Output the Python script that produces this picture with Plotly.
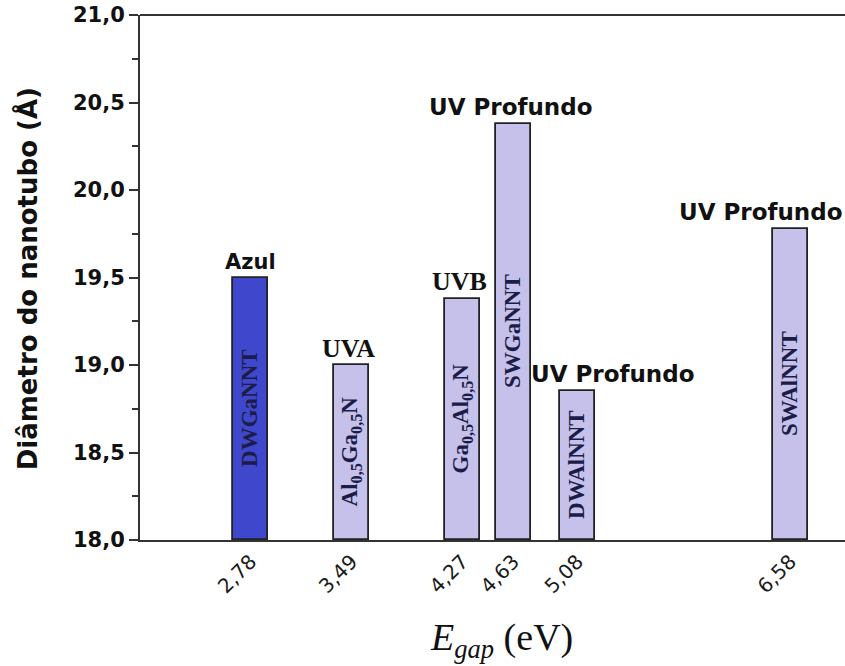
import plotly.graph_objects as go

# ---- data ----
egap = [2.78, 3.49, 4.27, 4.63, 5.08, 6.58]
diametro = [19.50, 19.00, 19.38, 20.38, 18.85, 19.78]
nomes = ["DWGaNNT",
         "Al<sub>0,5</sub>Ga<sub>0,5</sub>N",
         "Ga<sub>0,5</sub>Al<sub>0,5</sub>N",
         "SWGaNNT",
         "DWAlNNT",
         "SWAlNNT"]
regioes = ["Azul", "UVA", "UVB", "UV Profundo", "UV Profundo", "UV Profundo"]
tick_labels = ["2,78", "3,49", "4,27", "4,63", "5,08", "6,58"]

# ---- styles ----
bar_colors = ["#3f48cc", "#c5c1ea", "#c5c1ea", "#c5c1ea", "#c5c1ea", "#c5c1ea"]
label_fonts = ["DejaVu Sans", "Liberation Serif", "Liberation Serif",
               "DejaVu Sans", "DejaVu Sans", "DejaVu Sans"]
label_sizes = [21, 26, 26, 23, 23, 23]
label_xshift = [0, -3, -3, -2, 36, -29]
label_yshift = [2, 0, 1, 2, 2, 2]

fig = go.Figure()
fig.add_trace(go.Bar(
    x=egap, y=[d - 18 for d in diametro], base=18,
    width=0.245,
    marker=dict(color=bar_colors, line=dict(color="#222222", width=1.8)),
    text=["<b>%s</b>" % n for n in nomes],
    textposition="inside",
    insidetextanchor="middle",
    textangle=-90,
    constraintext="none",
    textfont=dict(family="Liberation Serif", size=23, color="#1c1c48"),
    hoverinfo="skip",
))

for xv, yv, t, fam, sz, xs, ys in zip(egap, diametro, regioes, label_fonts,
                                       label_sizes, label_xshift, label_yshift):
    fig.add_annotation(
        x=xv, y=yv, xref="x", yref="y", text="<b>%s</b>" % t,
        showarrow=False, yanchor="bottom", xanchor="center",
        xshift=xs, yshift=ys,
        font=dict(family=fam, size=sz, color="#111111"),
    )

# axis titles
fig.add_annotation(
    x=0.513, y=-0.19, xref="paper", yref="paper",
    text="<i>E</i><sub><i>gap</i></sub> (eV)", showarrow=False,
    xanchor="center", yanchor="middle",
    font=dict(family="Liberation Serif", size=38, color="#111111"),
)
fig.add_annotation(
    x=-0.16, y=0.497, xref="paper", yref="paper",
    text="<b>Diâmetro do nanotubo (Å)</b>", showarrow=False, textangle=-90,
    xanchor="center", yanchor="middle",
    font=dict(family="DejaVu Sans", size=26, color="#111111"),
)

# top frame line
fig.add_shape(type="line", xref="paper", yref="paper", x0=0, x1=1, y0=1, y1=1,
              line=dict(color="#333333", width=2))

fig.update_layout(
    width=845, height=666,
    margin=dict(l=140, r=0, t=15, b=126),
    paper_bgcolor="white", plot_bgcolor="white",
    showlegend=False,
    separators=",.",
    bargap=0,
)
fig.update_xaxes(
    range=[2, 6.965],
    tickvals=egap, ticktext=tick_labels, tickangle=-45,
    showline=True, linecolor="#333333", linewidth=2,
    ticks="", showgrid=False, zeroline=False,
    tickfont=dict(family="DejaVu Sans", size=20, color="#1a1a1a"),
)
fig.update_yaxes(
    range=[18, 21], dtick=0.5, tick0=18, tickformat=".1f",
    showline=True, linecolor="#333333", linewidth=2,
    ticks="outside", ticklen=9, tickwidth=1.5, tickcolor="#333333",
    minor=dict(dtick=0.25, ticks="outside", ticklen=6, tickwidth=1.5, tickcolor="#333333"),
    showgrid=False, zeroline=False,
    tickfont=dict(family="DejaVu Sans", size=21, color="#111111", weight="bold"),
)

fig.write_html("out.html")
